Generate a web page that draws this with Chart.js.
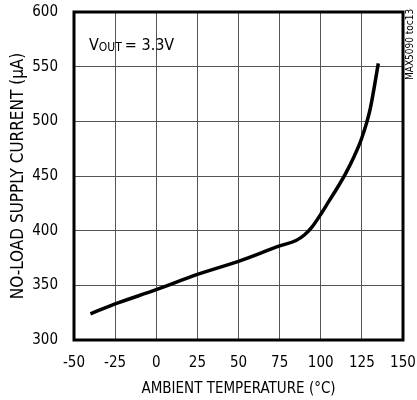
<!DOCTYPE html>
<html lang="en">
<head>
    <meta charset="UTF-8">
    <title>No-Load Supply Current vs Ambient Temperature</title>
    <script src="https://cdn.jsdelivr.net/npm/chart.js"></script>
    <style>
        body { margin: 0; background: #fff; }
        #wrap { position: relative; width: 417px; height: 400px; }
    </style>
</head>
<body>
    <div id="wrap">
        <canvas id="grafico" width="417" height="400"></canvas>
    </div>
    <script>
        // values
        const temperatura = [-40, -25, 0, 25, 50, 75, 85, 90, 95, 100, 105, 110, 115, 120, 125, 130, 135];
        const corrente = [324, 333, 346, 360, 372, 386, 391, 396, 404, 415, 427, 439, 452, 467, 485, 511, 553];
        const ticksX = [-50, -25, 0, 25, 50, 75, 100, 125, 150];
        const ticksY = [300, 350, 400, 450, 500, 550, 600];

        const fonte = '"Liberation Sans Narrow", "DejaVu Sans Condensed", sans-serif';

        const pontos = temperatura.map((t, i) => ({ x: t, y: corrente[i] }));

        const extras = {
            id: 'extras',
            afterDraw(chart) {
                const ctx = chart.ctx;
                const a = chart.chartArea;
                ctx.save();
                // moldura
                ctx.strokeStyle = '#000';
                ctx.lineWidth = 3;
                ctx.strokeRect(a.left, a.top, a.right - a.left, a.bottom - a.top);

                // legenda V_OUT
                ctx.fillStyle = '#000';
                ctx.textBaseline = 'alphabetic';
                ctx.font = '16px ' + fonte;
                ctx.fillText('V', 89, 50);
                let x = 89 + ctx.measureText('V').width;
                ctx.font = '12px ' + fonte;
                ctx.fillText('OUT', x, 51);
                x += ctx.measureText('OUT').width + 3;
                ctx.font = '16px ' + fonte;
                ctx.fillText('= 3.3V', x, 50);

                // texto vertical
                ctx.translate(413, 80);
                ctx.rotate(-Math.PI / 2);
                ctx.font = '10px ' + fonte;
                ctx.fillText('MAX5090 toc13', 0, 0);
                ctx.restore();
            }
        };

        const ctx = document.getElementById('grafico').getContext('2d');
        new Chart(ctx, {
            type: 'scatter',
            data: {
                datasets: [{
                    data: pontos,
                    showLine: true,
                    borderColor: '#000',
                    borderWidth: 3.5,
                    pointRadius: 0,
                    cubicInterpolationMode: 'monotone',
                    fill: false
                }]
            },
            options: {
                responsive: false,
                animation: false,
                layout: { padding: { left: 8, right: 14, top: 12, bottom: 0 } },
                plugins: { legend: { display: false }, tooltip: { enabled: false } },
                scales: {
                    x: {
                        type: 'linear',
                        min: -50,
                        max: 150,
                        afterBuildTicks: s => { s.ticks = ticksX.map(v => ({ value: v })); },
                        afterFit: s => { s.height = 60; s.paddingLeft = 0; s.paddingRight = 0; },
                        grid: { color: '#555', lineWidth: 1, drawTicks: false },
                        border: { display: false },
                        ticks: { color: '#000', font: { family: fonte, size: 15 }, padding: 14, maxRotation: 0 },
                        title: {
                            display: true,
                            text: 'AMBIENT TEMPERATURE (°C)',
                            color: '#000',
                            font: { family: fonte, size: 15 },
                            padding: { top: 0, bottom: 2 }
                        }
                    },
                    y: {
                        min: 300,
                        max: 600,
                        afterBuildTicks: s => { s.ticks = ticksY.map(v => ({ value: v })); },
                        afterFit: s => { s.width = 66; s.paddingTop = 0; s.paddingBottom = 0; },
                        grid: { color: '#555', lineWidth: 1, drawTicks: false },
                        border: { display: false },
                        ticks: { color: '#000', font: { family: fonte, size: 15 }, padding: 16 },
                        title: {
                            display: true,
                            text: 'NO-LOAD SUPPLY CURRENT (µA)',
                            color: '#000',
                            font: { family: fonte, size: 17 },
                            padding: { top: 0, bottom: 2 }
                        }
                    }
                }
            },
            plugins: [extras]
        });
    </script>
</body>
</html>
